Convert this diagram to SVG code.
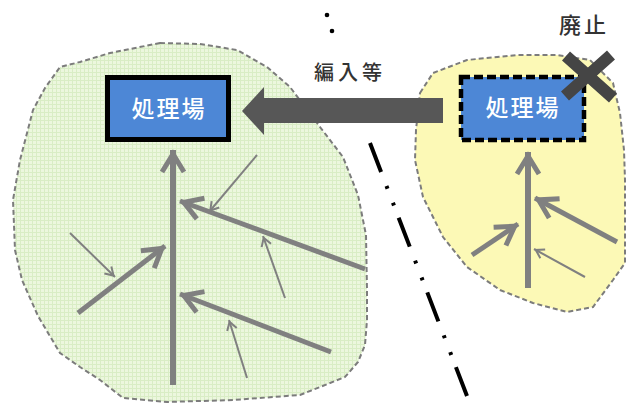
<svg xmlns="http://www.w3.org/2000/svg" width="627" height="403" viewBox="0 0 627 403">
<style>
.blob{stroke:#7c7c7c;stroke-width:2;stroke-dasharray:5 3}
.thick{stroke:#808080;stroke-width:5;fill:none;marker-end:url(#chevB)}
.trunk{stroke:#808080;stroke-width:6;fill:none;marker-end:url(#chevB)}
.thin{stroke:#808080;stroke-width:2;fill:none;marker-end:url(#chevS)}
.box{fill:#4d87d6}
.lbl{font-family:"Noto Sans CJK JP","Noto Sans",sans-serif;fill:#fff;font-size:23px;font-weight:500;text-anchor:middle;letter-spacing:2px}
.cap{font-family:"Noto Sans CJK JP","Noto Sans",sans-serif;fill:#333;text-anchor:middle;font-weight:500}
</style>
<defs>
<pattern id="grid" width="4" height="4" patternUnits="userSpaceOnUse">
<rect width="4" height="4" fill="#ecf7de"/>
<path d="M0,0.5H4M0.5,0V4" stroke="#d9edc5" stroke-width="1"/>
</pattern>
<marker id="chevB" markerUnits="userSpaceOnUse" orient="auto" refX="4" refY="0" markerWidth="30" markerHeight="30" overflow="visible">
<path d="M-18,-11 L0,0 L-18,11" fill="none" stroke="#808080" stroke-width="5" stroke-linejoin="miter"/>
</marker>
<marker id="chevS" markerUnits="userSpaceOnUse" orient="auto" refX="2" refY="0" markerWidth="12" markerHeight="12" overflow="visible">
<path d="M-8,-5 L0,0 L-8,5" fill="none" stroke="#808080" stroke-width="2"/>
</marker>
</defs>
<rect width="627" height="403" fill="#fff"/>
<g id="area-left">
<path class="blob" fill="url(#grid)" d="M160,43 L200,44 L237,50 L267,67 L290,87 L305,107 L320,127 L343,157 L358,195 L366,235 L367,290 L367,320 L365,345 L358,362 L345,377 L300,395 L233,400 L167,402 L123,398 L100,380 L80,367 L60,353 L38,316 L22,280 L15,250 L13,200 L20,160 L33,110 L45,88 L60,67 L80,62 L110,53 Z"/>
</g>
<g id="area-right">
<path class="blob" fill="#fcf9b6" d="M420,93 L433,73 L467,60 L517,55 L557,55 L590,60 L613,83 L620,113 L624,150 L625,180 L625,263 L613,280 L593,307 L567,312 L533,303 L500,290 L467,267 L443,237 L423,197 L415,160 L416,130 Z"/>
</g>
<g id="boundary">
<circle cx="327" cy="15" r="2.3" fill="#000"/>
<circle cx="332" cy="31" r="2.3" fill="#000"/>
<path d="M370,143 L467,396" stroke="#000" stroke-width="4" stroke-dasharray="31 15 3 15 3 13" fill="none"/>
</g>
<g id="connectors">
<line class="trunk" x1="173" y1="385" x2="173" y2="150"/>
<line class="thick" x1="365" y1="269" x2="180" y2="201"/>
<line class="thick" x1="331" y1="352" x2="180" y2="294"/>
<line class="thick" x1="78" y1="313" x2="165" y2="246"/>
<line class="thin" x1="257" y1="155" x2="209" y2="212"/>
<line class="thin" x1="285" y1="298" x2="263" y2="236"/>
<line class="thin" x1="247" y1="378" x2="229" y2="320"/>
<line class="thin" x1="70" y1="233" x2="115" y2="277"/>
<line class="trunk" x1="528" y1="288" x2="528" y2="152"/>
<line class="thick" x1="617" y1="242" x2="535" y2="198"/>
<line class="thick" x1="472" y1="255" x2="518" y2="224"/>
<line class="thin" x1="585" y1="277" x2="534" y2="249"/>
<path id="merge-arrow" d="M443,98 L264,98 L264,87 L242,111 L264,135 L264,123 L443,123 Z" fill="#575757"/>
</g>
<g id="label-merge">
<text class="cap" x="350" y="80" font-size="20" letter-spacing="4">編入等</text>
</g>
<g id="label-abolish">
<text class="cap" x="584" y="33" font-size="22" letter-spacing="3">廃止</text>
</g>
<g id="plant-left">
<rect class="box" x="107.5" y="77.5" width="121" height="62" stroke="#000" stroke-width="5"/>
<text class="lbl" x="169" y="117">処理場</text>
</g>
<g id="plant-right">
<rect class="box" x="461" y="77" width="123" height="63" stroke="#000" stroke-width="4.5" stroke-dasharray="9 4"/>
<text class="lbl" x="523" y="116">処理場</text>
</g>
<g id="cross">
<path d="M566,56 L613,98 M611,55 L565,96" stroke="#454545" stroke-width="12" fill="none"/>
</g>
</svg>
